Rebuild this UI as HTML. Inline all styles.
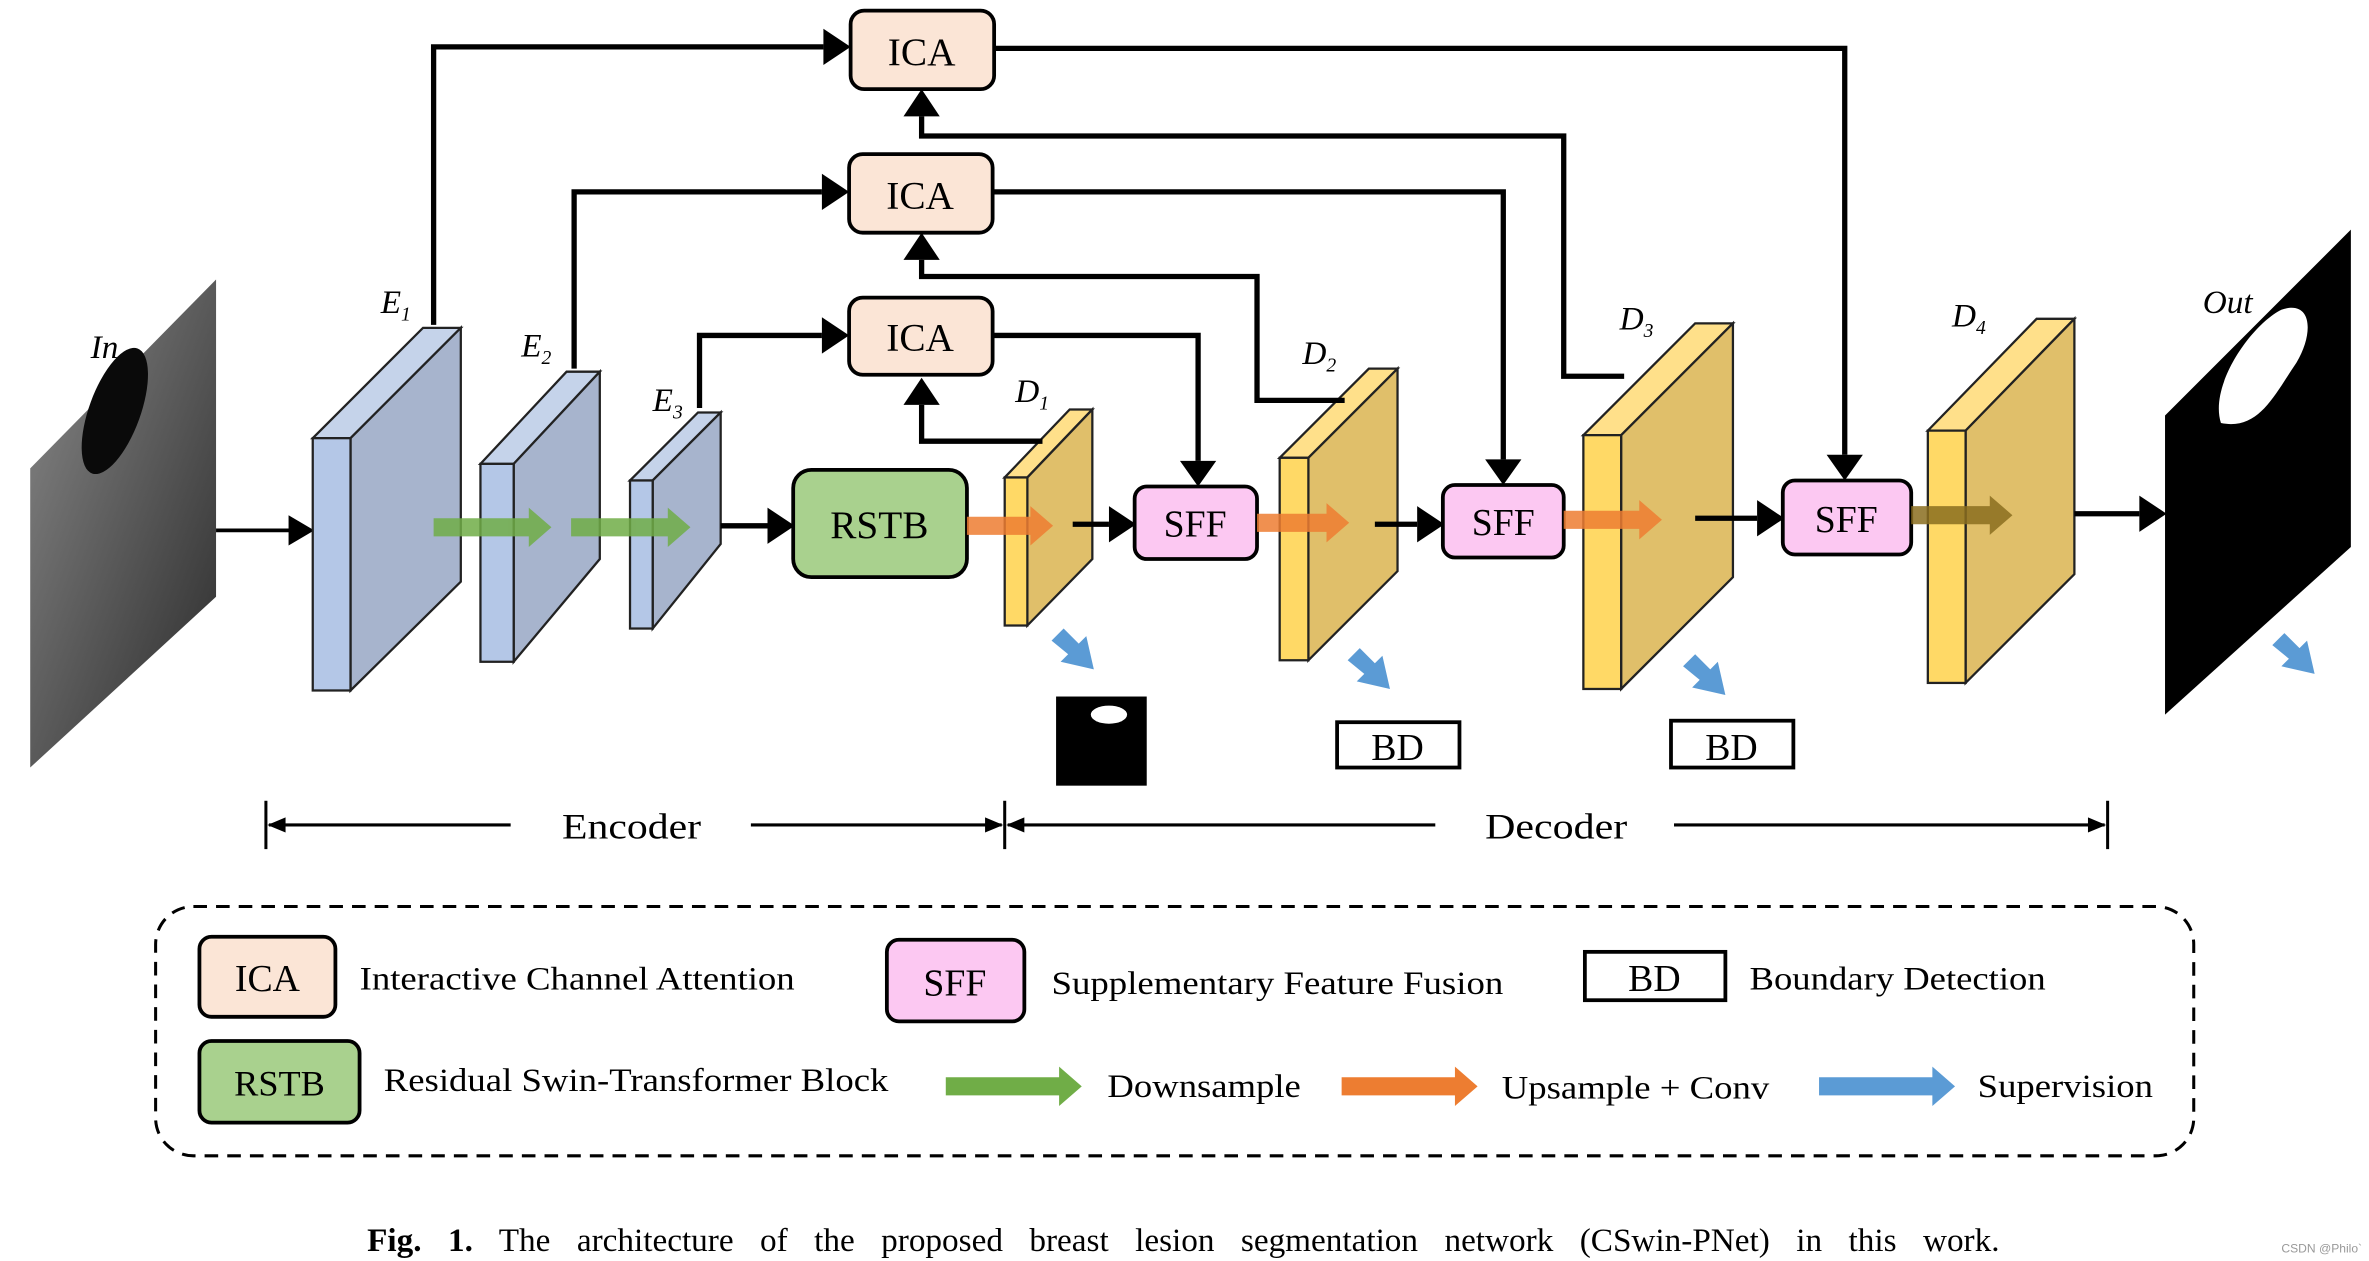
<!DOCTYPE html>
<html><head><meta charset="utf-8"><style>
html,body{margin:0;padding:0;background:#fff;}
svg{display:block;}
text{font-family:"Liberation Serif",serif;fill:#000;}
</style></head><body>
<svg width="2369" height="1261" viewBox="0 0 1568 834.6" xmlns="http://www.w3.org/2000/svg">
<defs>
<linearGradient id="us" x1="0" y1="0" x2="1" y2="1">
<stop offset="0" stop-color="#8a8a8a"/><stop offset="0.5" stop-color="#5a5a5a"/><stop offset="1" stop-color="#2a2a2a"/></linearGradient>
</defs>

<polygon points="20,310 143,185 143,395 20,508" fill="url(#us)"/>
<ellipse cx="76" cy="272" rx="17" ry="44" transform="rotate(20 76 272)" fill="#0a0a0a"/>
<text x="60" y="237" font-size="22" font-style="italic">In</text>
<line x1="143" y1="351" x2="193" y2="351" stroke="#000" stroke-width="2.5"/>
<path d="M191,341 L208,351 L191,361 z" fill="#000"/>

<g stroke="#222" stroke-width="1.5">
<polygon points="207,290 280,217 305,217 232,290" fill="#c5d3ea"/>
<polygon points="232,290 305,217 305,385 232,457" fill="#a7b4cd"/>
<rect x="207" y="290" width="25" height="167" fill="#b4c7e7"/>
<polygon points="318,307 375,246 397,246 340,307" fill="#c5d3ea"/>
<polygon points="340,307 397,246 397,370 340,438" fill="#a7b4cd"/>
<rect x="318" y="307" width="22" height="131" fill="#b4c7e7"/>
<polygon points="417,318 462,273 477,273 432,318" fill="#c5d3ea"/>
<polygon points="432,318 477,273 477,360 432,416" fill="#a7b4cd"/>
<rect x="417" y="318" width="15" height="98" fill="#b4c7e7"/>

<polygon points="665,316 708,271 723,271 680,316" fill="#ffe08a"/>
<polygon points="680,316 723,271 723,370 680,414" fill="#e0bf6a"/>
<rect x="665" y="316" width="15" height="98" fill="#ffd966"/>
<polygon points="847,303 906,244 925,244 866,303" fill="#ffe08a"/>
<polygon points="866,303 925,244 925,378 866,437" fill="#e0bf6a"/>
<rect x="847" y="303" width="19" height="134" fill="#ffd966"/>
<polygon points="1048,288 1122,214 1147,214 1073,288" fill="#ffe08a"/>
<polygon points="1073,288 1147,214 1147,382 1073,456" fill="#e0bf6a"/>
<rect x="1048" y="288" width="25" height="168" fill="#ffd966"/>
<polygon points="1276,285 1348,211 1373,211 1301,285" fill="#ffe08a"/>
<polygon points="1301,285 1373,211 1373,380 1301,452" fill="#e0bf6a"/>
<rect x="1276" y="285" width="25" height="167" fill="#ffd966"/>
</g>

<g font-size="22" font-style="italic">
<text x="252" y="207">E<tspan font-size="13" dy="5">1</tspan></text>
<text x="345" y="236">E<tspan font-size="13" dy="5">2</tspan></text>
<text x="432" y="272">E<tspan font-size="13" dy="5">3</tspan></text>
<text x="672" y="266">D<tspan font-size="13" dy="5">1</tspan></text>
<text x="862" y="241">D<tspan font-size="13" dy="5">2</tspan></text>
<text x="1072" y="218">D<tspan font-size="13" dy="5">3</tspan></text>
<text x="1292" y="216">D<tspan font-size="13" dy="5">4</tspan></text>
<text x="1458" y="207">Out</text>
</g>

<polygon points="1433,275 1556,152 1556,362 1433,473" fill="#000"/>
<path d="M1470,280 C1462,255 1490,215 1510,205 C1530,198 1532,220 1520,240 C1505,262 1495,285 1470,280 z" fill="#fff"/>

<g stroke="#000" stroke-width="2.5" fill="#fbe5d6">
<rect x="563" y="7" width="95" height="52" rx="9"/>
<rect x="562" y="102" width="95" height="52" rx="9"/>
<rect x="562" y="197" width="95" height="51" rx="9"/>
</g>
<g font-size="26" text-anchor="middle">
<text x="610" y="43">ICA</text><text x="609" y="138">ICA</text><text x="609" y="232">ICA</text>
</g>
<rect x="525" y="311" width="115" height="71" rx="12" fill="#a9d18e" stroke="#000" stroke-width="2.5"/>
<text x="582" y="356" font-size="26" text-anchor="middle">RSTB</text>
<g stroke="#000" stroke-width="2.5" fill="#fcc8f2">
<rect x="751" y="322" width="81" height="48" rx="8"/>
<rect x="955" y="321" width="80" height="48" rx="8"/>
<rect x="1180" y="318" width="85" height="49" rx="8"/>
</g>
<g font-size="25" text-anchor="middle">
<text x="791" y="355">SFF</text><text x="995" y="354">SFF</text><text x="1222" y="352">SFF</text>
</g>

<g stroke="#000" stroke-width="3.5" fill="none">
<path d="M287,215 V31 H545"/>
<path d="M380,244 V127 H544"/>
<path d="M463,270 V222 H544"/>
<path d="M690,292 H610 V268"/>
<path d="M658,222 H793 V305"/>
<path d="M890,265 H832 V183 H610 V172"/>
<path d="M657,127 H995 V304"/>
<path d="M1075,249 H1035 V90 H610 V77"/>
<path d="M658,32 H1221 V301"/>
<path d="M477,348 H508"/>
<path d="M710,347 H734"/>
<path d="M910,347 H938"/>
<path d="M1122,343 H1163"/>
<path d="M1373,340 H1416"/>
</g>
<g fill="#000">
<path d="M545,19 L563,31 L545,43 z"/>
<path d="M544,115 L562,127 L544,139 z"/>
<path d="M544,210 L562,222 L544,234 z"/>
<path d="M598,268 L610,250 L622,268 z"/>
<path d="M781,305 L793,322 L805,305 z"/>
<path d="M598,172 L610,154 L622,172 z"/>
<path d="M983,304 L995,321 L1007,304 z"/>
<path d="M598,77 L610,59 L622,77 z"/>
<path d="M1209,301 L1221,318 L1233,301 z"/>
<path d="M508,336 L526,348 L508,360 z"/>
<path d="M734,335 L752,347 L734,359 z"/>
<path d="M938,335 L956,347 L938,359 z"/>
<path d="M1163,331 L1181,343 L1163,355 z"/>
<path d="M1416,328 L1434,340 L1416,352 z"/>
</g>

<g opacity="0.85">
<path d="M287,343 H350 V336 L365,349 L350,362 V355 H287 z" fill="#70ad47"/>
<path d="M378,343 H442 V336 L457,349 L442,362 V355 H378 z" fill="#70ad47"/>
<path d="M640,342 H682 V335 L697,348 L682,361 V354 H640 z" fill="#ed7d31"/>
<path d="M832,340 H878 V333 L893,346 L878,359 V352 H832 z" fill="#ed7d31"/>
<path d="M1035,338 H1085 V331 L1100,344 L1085,357 V350 H1035 z" fill="#ed7d31"/>
<path d="M1265,335 H1317 V328 L1332,341 L1317,354 V347 H1265 z" fill="#8a6d1e"/>
</g>
<g fill="#5b9bd5">
<path d="M696,424 l8,-8 l10,10 l5,-5 l5,22 l-22,-5 l5,-5 z"/>
<path d="M892,437 l8,-8 l10,10 l5,-5 l5,22 l-22,-5 l5,-5 z"/>
<path d="M1114,441 l8,-8 l10,10 l5,-5 l5,22 l-22,-5 l5,-5 z"/>
<path d="M1504,427 l8,-8 l10,10 l5,-5 l5,22 l-22,-5 l5,-5 z"/>
</g>
<rect x="699" y="461" width="60" height="59" fill="#000"/>
<ellipse cx="734" cy="473" rx="12" ry="6" fill="#fff"/>
<rect x="885" y="478" width="81" height="30" fill="#fff" stroke="#000" stroke-width="2.5"/>
<rect x="1106" y="477" width="81" height="31" fill="#fff" stroke="#000" stroke-width="2.5"/>
<text x="925" y="503" font-size="25" text-anchor="middle">BD</text>
<text x="1146" y="503" font-size="25" text-anchor="middle">BD</text>

<g stroke="#000" stroke-width="2">
<line x1="176" y1="530" x2="176" y2="562"/><line x1="665" y1="530" x2="665" y2="562"/><line x1="1395" y1="530" x2="1395" y2="562"/>
<line x1="178" y1="546" x2="338" y2="546"/>
<line x1="497" y1="546" x2="663" y2="546"/>
<line x1="667" y1="546" x2="950" y2="546"/>
<line x1="1108" y1="546" x2="1393" y2="546"/>
</g>
<g fill="#000">
<path d="M177,546 l12,-5 v10 z"/><path d="M664,546 l-12,-5 v10 z"/><path d="M666,546 l12,-5 v10 z"/><path d="M1394,546 l-12,-5 v10 z"/>
</g>
<text x="372" y="555" font-size="24" textLength="92" lengthAdjust="spacingAndGlyphs">Encoder</text>
<text x="983" y="555" font-size="24" textLength="94" lengthAdjust="spacingAndGlyphs">Decoder</text>

<rect x="103" y="600" width="1349" height="165" rx="25" fill="none" stroke="#000" stroke-width="2" stroke-dasharray="9,6"/>
<rect x="132" y="620" width="90" height="53" rx="8" fill="#fbe5d6" stroke="#000" stroke-width="2.5"/>
<text x="177" y="656" font-size="25" text-anchor="middle">ICA</text>
<text x="238" y="655" font-size="22" textLength="288" lengthAdjust="spacingAndGlyphs">Interactive Channel Attention</text>
<rect x="587" y="622" width="91" height="54" rx="8" fill="#fcc8f2" stroke="#000" stroke-width="2.5"/>
<text x="632" y="659" font-size="25" text-anchor="middle">SFF</text>
<text x="696" y="658" font-size="22" textLength="299" lengthAdjust="spacingAndGlyphs">Supplementary Feature Fusion</text>
<rect x="1049" y="630" width="93" height="32" fill="#fff" stroke="#000" stroke-width="2.5"/>
<text x="1095" y="656" font-size="25" text-anchor="middle">BD</text>
<text x="1158" y="655" font-size="22" textLength="196" lengthAdjust="spacingAndGlyphs">Boundary Detection</text>
<rect x="132" y="689" width="106" height="54" rx="8" fill="#a9d18e" stroke="#000" stroke-width="2.5"/>
<text x="185" y="725" font-size="24" text-anchor="middle">RSTB</text>
<text x="254" y="722" font-size="22" textLength="334" lengthAdjust="spacingAndGlyphs">Residual Swin-Transformer Block</text>
<path d="M626,713 H701 V706 L716,719 L701,732 V725 H626 z" fill="#70ad47"/>
<text x="733" y="726" font-size="22" textLength="128" lengthAdjust="spacingAndGlyphs">Downsample</text>
<path d="M888,713 H963 V706 L978,719 L963,732 V725 H888 z" fill="#ed7d31"/>
<text x="994" y="727" font-size="22" textLength="177" lengthAdjust="spacingAndGlyphs">Upsample + Conv</text>
<path d="M1204,713 H1279 V706 L1294,719 L1279,732 V725 H1204 z" fill="#5b9bd5"/>
<text x="1309" y="726" font-size="22" textLength="116" lengthAdjust="spacingAndGlyphs">Supervision</text>

<text x="243" y="828" font-size="22" word-spacing="12"><tspan font-weight="bold">Fig. 1.</tspan> The architecture of the proposed breast lesion segmentation network (CSwin-PNet) in this work.</text>
<text x="1510" y="829" font-size="8" style="font-family:'Liberation Sans',sans-serif;fill:#999">CSDN @Philo`</text>
</svg>
</body></html>
